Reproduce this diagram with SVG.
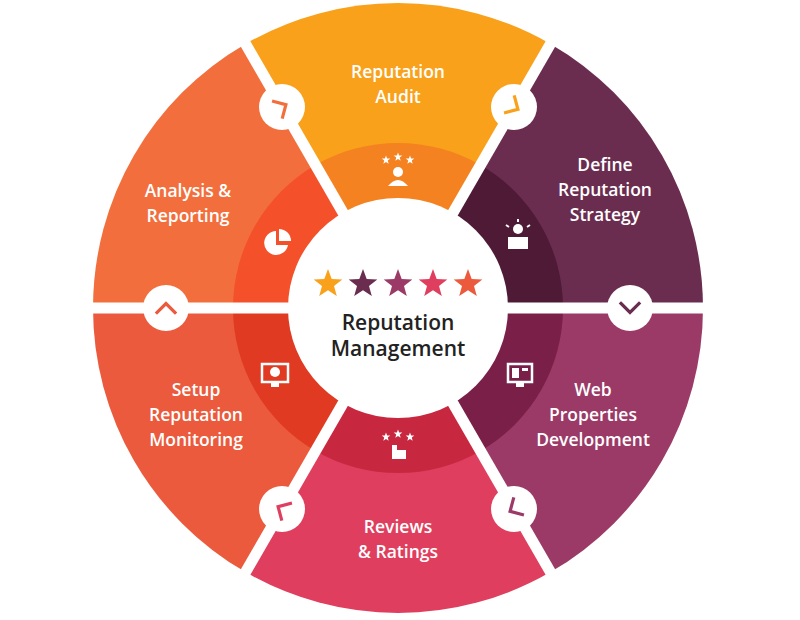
<svg xmlns="http://www.w3.org/2000/svg" width="800" height="620" viewBox="0 0 800 620">
<style>
.t{font-family:"Open Sans","Liberation Sans",sans-serif;font-size:17.5px;font-weight:600;fill:#fff;text-anchor:middle}
.c{font-family:"Open Sans","Liberation Sans",sans-serif;font-size:21px;font-weight:600;fill:#222;text-anchor:middle}
.ch{fill:none;stroke-width:3.2;stroke-linecap:square}
.ic{fill:#fff}
</style>
<defs>
<polygon id="star" points="0,-15 3.7,-5.1 14.3,-4.6 6,1.9 8.8,12.1 0,6.3 -8.8,12.1 -6,1.9 -14.3,-4.6 -3.7,-5.1"/>
<path id="chev" d="M-9 -4.5 L0 4.5 L9 -4.5"/>
</defs>
<rect width="800" height="620" fill="#fff"/>
<g id="seg-audit">
<path d="M398 308 L245.5 43.9 A305 305 0 0 1 550.5 43.9 Z" fill="#F9A11B"/>
<path d="M398 308 L315.5 165.1 A165 165 0 0 1 480.5 165.1 Z" fill="#F58220"/>
<text class="t" x="398" y="78">Reputation</text><text class="t" x="398" y="103">Audit</text>
<g class="ic" transform="translate(398,170)"><use href="#star" transform="translate(-12,-10) scale(0.3)"/><use href="#star" transform="translate(0,-13) scale(0.3)"/><use href="#star" transform="translate(12,-10) scale(0.3)"/><circle cx="0" cy="2" r="5"/><path d="M-10 16 Q0 4 10 16 Z"/></g>
</g>
<g id="seg-strategy">
<path d="M398 308 L550.5 43.9 A305 305 0 0 1 703 308 Z" fill="#6B2D4F"/>
<path d="M398 308 L480.5 165.1 A165 165 0 0 1 563 308 Z" fill="#4E1A35"/>
<text class="t" x="605" y="171">Define</text><text class="t" x="605" y="196">Reputation</text><text class="t" x="605" y="221">Strategy</text>
<g class="ic" transform="translate(518,237)"><circle cx="0" cy="-8" r="5"/><rect x="-10" y="0" width="20" height="12"/><path d="M-12 -12 L-9 -10 M12 -12 L9 -10 M0 -18 L0 -15" stroke="#fff" stroke-width="2"/></g>
</g>
<g id="seg-web">
<path d="M398 308 L703 308 A305 305 0 0 1 550.5 572.1 Z" fill="#9B3A66"/>
<path d="M398 308 L563 308 A165 165 0 0 1 480.5 450.9 Z" fill="#7A1F48"/>
<text class="t" x="593" y="396">Web</text><text class="t" x="593" y="421">Properties</text><text class="t" x="593" y="446">Development</text>
<g transform="translate(520,375)"><rect x="-12" y="-11" width="24" height="18" fill="none" stroke="#fff" stroke-width="2.5"/><rect x="-8" y="-7" width="7" height="10" fill="#fff"/><rect x="2" y="-7" width="6" height="3" fill="#fff"/><rect x="-4" y="7" width="8" height="5" fill="#fff"/></g>
</g>
<g id="seg-reviews">
<path d="M398 308 L550.5 572.1 A305 305 0 0 1 245.5 572.1 Z" fill="#E03E5E"/>
<path d="M398 308 L480.5 450.9 A165 165 0 0 1 315.5 450.9 Z" fill="#C8283F"/>
<text class="t" x="398" y="533">Reviews</text><text class="t" x="398" y="558">&amp; Ratings</text>
<g class="ic" transform="translate(398,447)"><use href="#star" transform="translate(-12,-10) scale(0.3)"/><use href="#star" transform="translate(0,-13) scale(0.3)"/><use href="#star" transform="translate(12,-10) scale(0.3)"/><rect x="-6" y="-2" width="5" height="14"/><rect x="-1" y="3" width="9" height="9"/></g>
</g>
<g id="seg-monitoring">
<path d="M398 308 L245.5 572.1 A305 305 0 0 1 93 308 Z" fill="#EB5A3C"/>
<path d="M398 308 L315.5 450.9 A165 165 0 0 1 233 308 Z" fill="#E03A22"/>
<text class="t" x="196" y="396">Setup</text><text class="t" x="196" y="421">Reputation</text><text class="t" x="196" y="446">Monitoring</text>
<g transform="translate(275,375)"><rect x="-13" y="-11" width="26" height="18" fill="none" stroke="#fff" stroke-width="2.5"/><circle cx="0" cy="-3" r="5" fill="#fff"/><rect x="-4" y="7" width="8" height="5" fill="#fff"/></g>
</g>
<g id="seg-analysis">
<path d="M398 308 L93 308 A305 305 0 0 1 245.5 43.9 Z" fill="#F26F3D"/>
<path d="M398 308 L233 308 A165 165 0 0 1 315.5 165.1 Z" fill="#F4502A"/>
<text class="t" x="188" y="197">Analysis &amp;</text><text class="t" x="188" y="222">Reporting</text>
<g class="ic" transform="translate(278,243)"><path d="M-2 -12 A12 12 0 1 0 10 2 L-2 2 Z"/><path d="M1 -14 A12 12 0 0 1 13 -2 L1 -2 Z"/></g>
</g>
<g id="connectors" stroke="#fff" stroke-width="11">
<line x1="398" y1="308" x2="712" y2="308"/><line x1="398" y1="308" x2="555" y2="580"/><line x1="398" y1="308" x2="241" y2="580"/>
<line x1="398" y1="308" x2="84" y2="308"/><line x1="398" y1="308" x2="241" y2="36"/><line x1="398" y1="308" x2="555" y2="36"/>
</g>
<g id="arrows">
<g transform="translate(282,107)"><circle r="23" fill="#fff"/><use href="#chev" class="ch" stroke="#F26F3D" transform="rotate(240)"/></g>
<g transform="translate(514,107)"><circle r="23" fill="#fff"/><use href="#chev" class="ch" stroke="#F9A11B" transform="rotate(300)"/></g>
<g transform="translate(630,308)"><circle r="23" fill="#fff"/><use href="#chev" class="ch" stroke="#6B2D4F"/></g>
<g transform="translate(514,509)"><circle r="23" fill="#fff"/><use href="#chev" class="ch" stroke="#9B3A66" transform="rotate(60)"/></g>
<g transform="translate(282,509)"><circle r="23" fill="#fff"/><use href="#chev" class="ch" stroke="#E03E5E" transform="rotate(120)"/></g>
<g transform="translate(166,308)"><circle r="23" fill="#fff"/><use href="#chev" class="ch" stroke="#EB5A3C" transform="rotate(180)"/></g>
</g>
<g id="center">
<circle cx="398" cy="308" r="110" fill="#fff"/>
<use href="#star" x="328" y="284" fill="#F9A11B"/>
<use href="#star" x="363" y="284" fill="#6B2D4F"/>
<use href="#star" x="398" y="284" fill="#9B3A66"/>
<use href="#star" x="433" y="284" fill="#E03E5E"/>
<use href="#star" x="468" y="284" fill="#EB5A3C"/>
<text class="c" x="398" y="330">Reputation</text><text class="c" x="398" y="356">Management</text>
</g>
</svg>
